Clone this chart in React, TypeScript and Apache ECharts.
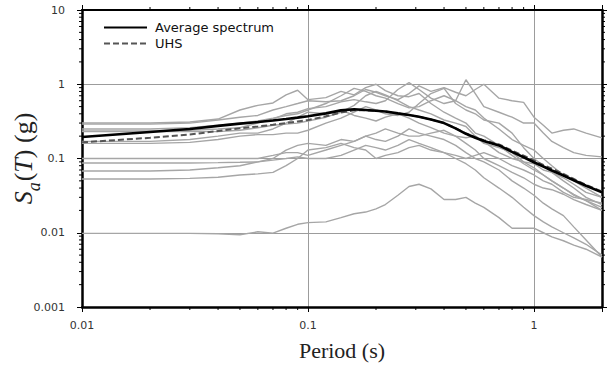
import React, { useEffect, useRef } from "react";
import * as echarts from "echarts";

// Periods (s) at which every spectrum is sampled
const periods = [
  0.01, 0.02, 0.03, 0.04, 0.05, 0.06, 0.07, 0.08, 0.09, 0.1,
  0.12, 0.14, 0.16, 0.18, 0.2, 0.22, 0.25, 0.28, 0.31, 0.35,
  0.4, 0.45, 0.5, 0.55, 0.6, 0.7, 0.8, 0.9, 1.0, 1.1,
  1.2, 1.35, 1.5, 1.7, 2.0,
];

const averageSpectrum = [
  0.195, 0.228, 0.25, 0.275, 0.295, 0.31, 0.325, 0.34, 0.355, 0.37,
  0.405, 0.445, 0.46, 0.45, 0.44, 0.43, 0.405, 0.385, 0.365, 0.335,
  0.3, 0.255, 0.215, 0.19, 0.172, 0.15, 0.123, 0.104, 0.089, 0.078,
  0.069, 0.059, 0.051, 0.043, 0.035,
];

const uhs = [
  0.165, 0.19, 0.21, 0.235, 0.255, 0.27, 0.285, 0.3, 0.315, 0.33,
  0.37, 0.415, 0.445, 0.445, 0.44, 0.43, 0.405, 0.385, 0.365, 0.335,
  0.3, 0.255, 0.217, 0.193, 0.176, 0.155, 0.128, 0.109, 0.094, 0.082,
  0.073, 0.062, 0.053, 0.044, 0.036,
];

const record01 = [
  0.3, 0.3, 0.31, 0.34, 0.45, 0.52, 0.56, 0.72, 0.83, 0.62,
  0.66, 0.8, 0.72, 0.9, 1.0, 0.82, 0.7, 0.68, 0.75, 0.55,
  0.42, 0.35, 0.3, 0.22, 0.2, 0.15, 0.11, 0.085, 0.07, 0.06,
  0.05, 0.04, 0.033, 0.027, 0.02,
];
const record02 = [
  0.29, 0.29, 0.3, 0.33, 0.36, 0.38, 0.45, 0.5, 0.55, 0.6,
  0.58, 0.6, 0.7, 0.85, 0.78, 0.7, 0.62, 0.75, 0.95, 0.8,
  0.9, 0.78, 0.7, 0.85, 1.0, 0.65, 0.6, 0.57, 0.36, 0.28,
  0.22, 0.24, 0.25, 0.22, 0.19,
];
const record03 = [
  0.235, 0.235, 0.24, 0.25, 0.26, 0.3, 0.34, 0.4, 0.42, 0.47,
  0.5, 0.58, 0.62, 0.58, 0.55, 0.6, 0.85, 1.05, 0.85, 0.65,
  0.55, 0.6, 1.15, 0.75, 0.5, 0.42, 0.36, 0.3, 0.3, 0.22,
  0.17, 0.14, 0.12, 0.11, 0.105,
];
const record04 = [
  0.23, 0.23, 0.23, 0.23, 0.24, 0.26, 0.28, 0.29, 0.3, 0.32,
  0.36, 0.42, 0.52, 0.7, 0.8, 0.72, 0.6, 0.5, 0.45, 0.4,
  0.33, 0.3, 0.27, 0.2, 0.16, 0.14, 0.12, 0.09, 0.075, 0.06,
  0.05, 0.04, 0.032, 0.027, 0.022,
];
const record05 = [
  0.16, 0.16, 0.165, 0.18, 0.2, 0.21, 0.21, 0.22, 0.22, 0.24,
  0.3, 0.35, 0.42, 0.5, 0.45, 0.4, 0.38, 0.42, 0.55, 0.75,
  0.88, 0.55, 0.45, 0.4, 0.33, 0.3, 0.22, 0.14, 0.1, 0.08,
  0.065, 0.05, 0.04, 0.03, 0.024,
];
const record06 = [
  0.17, 0.17, 0.18, 0.2, 0.22, 0.22, 0.25, 0.3, 0.36, 0.42,
  0.4, 0.45, 0.38, 0.35, 0.32, 0.36, 0.4, 0.35, 0.3, 0.26,
  0.22, 0.2, 0.19, 0.2, 0.17, 0.12, 0.1, 0.09, 0.085, 0.07,
  0.065, 0.055, 0.045, 0.035, 0.03,
];
const record07 = [
  0.1, 0.1, 0.1, 0.1, 0.1, 0.1, 0.11, 0.12, 0.12, 0.11,
  0.13, 0.15, 0.17, 0.2, 0.18, 0.17, 0.2, 0.25, 0.22, 0.2,
  0.18, 0.15, 0.12, 0.1, 0.09, 0.07, 0.05, 0.04, 0.032, 0.025,
  0.021, 0.017, 0.012, 0.008, 0.0047,
];
const record08 = [
  0.087, 0.087, 0.087, 0.088, 0.089, 0.09, 0.095, 0.1, 0.105, 0.1,
  0.1, 0.11, 0.13, 0.15, 0.14, 0.13, 0.15, 0.18, 0.16, 0.14,
  0.12, 0.1, 0.085, 0.07, 0.055, 0.04, 0.03, 0.022, 0.017, 0.014,
  0.012, 0.01, 0.0085, 0.007, 0.005,
];
const record09 = [
  0.068, 0.068, 0.07, 0.075, 0.08, 0.09, 0.1, 0.13, 0.15, 0.16,
  0.15, 0.18, 0.17, 0.2, 0.22, 0.25, 0.22, 0.2, 0.2, 0.22,
  0.24, 0.2, 0.16, 0.13, 0.1, 0.08, 0.065, 0.055, 0.045, 0.04,
  0.038, 0.033, 0.028, 0.024, 0.02,
];
const record10 = [
  0.053, 0.053, 0.054, 0.056, 0.06, 0.062, 0.065, 0.08, 0.1, 0.13,
  0.14, 0.16, 0.14, 0.13, 0.1, 0.11, 0.12, 0.14, 0.15, 0.13,
  0.12, 0.11, 0.1, 0.11, 0.12, 0.1, 0.08, 0.07, 0.06, 0.05,
  0.045, 0.035, 0.03, 0.028, 0.025,
];
const record11 = [
  0.25, 0.25, 0.26, 0.28, 0.3, 0.32, 0.35, 0.38, 0.4, 0.45,
  0.55, 0.7, 0.88, 0.8, 0.7, 0.65, 0.55, 0.48, 0.5, 0.6,
  0.7, 0.6, 0.5, 0.45, 0.35, 0.25, 0.18, 0.15, 0.13, 0.1,
  0.08, 0.06, 0.05, 0.04, 0.03,
];
const record12 = [
  0.0098, 0.0098, 0.0098, 0.0097, 0.0094, 0.0103, 0.0099, 0.0115, 0.013, 0.0137,
  0.014, 0.016, 0.018, 0.019, 0.021, 0.024, 0.032, 0.042, 0.045, 0.039,
  0.028, 0.028, 0.03, 0.025, 0.022, 0.016, 0.0115, 0.0115, 0.0115, 0.01,
  0.0088, 0.0078, 0.0068, 0.006, 0.0047,
];

const records = [
  record01, record02, record03, record04, record05, record06,
  record07, record08, record09, record10, record11, record12,
];

const xTickLabels = ["0.01", "0.1", "1"];
const yTickLabels = ["0.001", "0.01", "0.1", "1", "10"];
const minorXTicks = [
  0.02, 0.03, 0.04, 0.05, 0.06, 0.07, 0.08, 0.09,
  0.2, 0.3, 0.4, 0.5, 0.6, 0.7, 0.8, 0.9,
];
const minorYTicks = [
  0.002, 0.003, 0.004, 0.005, 0.006, 0.007, 0.008, 0.009,
  0.02, 0.03, 0.04, 0.05, 0.06, 0.07, 0.08, 0.09,
  0.2, 0.3, 0.4, 0.5, 0.6, 0.7, 0.8, 0.9,
  2, 3, 4, 5, 6, 7, 8, 9,
];

const SANS = "DejaVu Sans";
const SERIF = "Liberation Serif";

function decadeLabel(list: string[], v: number) {
  const e = Math.log10(v);
  const r = Math.round(e);
  if (Math.abs(e - r) > 1e-6) return "";
  const s = Number(Math.pow(10, r).toPrecision(6)).toString();
  return list.includes(s) ? s : "";
}

function buildOption(): any {
  const pair = (vals: number[]) => periods.map((t, i) => [t, vals[i]]);
  const grayStyle = { color: "#a6a6a6", width: 1.4 };

  const recordSeries = records.map((r, i) => ({
    name: "record " + (i + 1),
    type: "line",
    data: pair(r),
    symbol: "none",
    silent: true,
    lineStyle: grayStyle,
    itemStyle: { color: "#a6a6a6" },
    z: 2,
  }));

  const tickData = [
    ...minorXTicks.map((v) => [v, 1, 0]),
    ...minorYTicks.map((v) => [0.1, v, 1]),
  ];

  const axisCommonX = {
    type: "log",
    logBase: 10,
    min: 0.01,
    max: 2,
  };
  const axisCommonY = {
    type: "log",
    logBase: 10,
    min: 0.001,
    max: 10,
  };

  return {
    animation: false,
    backgroundColor: "#ffffff",
    grid: {
      left: 82,
      right: 7,
      top: 10,
      bottom: 60,
      containLabel: false,
      outerBoundsMode: "none",
    },
    legend: {
      data: ["Average spectrum", "UHS"],
      orient: "vertical",
      left: 103,
      top: 21,
      padding: 0,
      itemWidth: 43,
      itemHeight: 14,
      itemGap: 3,
      itemStyle: { color: "transparent", borderWidth: 0, opacity: 0 },
      textStyle: { fontFamily: SANS, fontSize: 13, color: "#111", padding: [0, 0, 0, 3] },
    },
    xAxis: [
      {
        ...axisCommonX,
        position: "bottom",
        name: "Period (s)",
        nameLocation: "middle",
        nameGap: 32,
        nameMoveOverlap: false,
        nameTextStyle: { fontFamily: SERIF, fontSize: 22, color: "#222" },
        axisLine: { show: true, lineStyle: { color: "#000", width: 2.5 } },
        axisTick: { show: true, length: 5, lineStyle: { color: "#000", width: 1 } },
        axisLabel: {
          margin: 13,
          fontFamily: SANS,
          fontSize: 11,
          color: "#333",
          formatter: (v: number) => decadeLabel(xTickLabels, v),
        },
        splitLine: { show: true, lineStyle: { color: "#9c9c9c", width: 1 } },
      },
      {
        ...axisCommonX,
        position: "top",
        axisLine: { show: true, lineStyle: { color: "#000", width: 2 } },
        axisTick: { show: true, length: 5, lineStyle: { color: "#000", width: 1 } },
        axisLabel: { show: false },
        splitLine: { show: false },
      },
    ],
    yAxis: [
      {
        ...axisCommonY,
        position: "left",
        name: "{i|S}{sub|a}{n|(}{i|T}{n|) (g)}",
        nameLocation: "middle",
        nameGap: 46,
        nameMoveOverlap: false,
        nameRotate: 90,
        nameTextStyle: {
          fontFamily: SERIF,
          fontSize: 26,
          color: "#222",
          rich: {
            i: { fontFamily: SERIF, fontSize: 26, fontStyle: "italic", color: "#222" },
            n: { fontFamily: SERIF, fontSize: 26, color: "#222" },
            sub: {
              fontFamily: SERIF,
              fontSize: 18,
              fontStyle: "italic",
              color: "#222",
              verticalAlign: "bottom",
              padding: [0, 1, -7, 0],
            },
          },
        },
        axisLine: { show: true, lineStyle: { color: "#000", width: 2.5 } },
        axisTick: { show: true, length: 5, lineStyle: { color: "#000", width: 1 } },
        axisLabel: {
          margin: 17,
          fontFamily: SANS,
          fontSize: 11,
          color: "#333",
          formatter: (v: number) => decadeLabel(yTickLabels, v),
        },
        splitLine: { show: true, lineStyle: { color: "#9c9c9c", width: 1 } },
      },
      {
        ...axisCommonY,
        position: "right",
        axisLine: { show: true, lineStyle: { color: "#000", width: 2.5 } },
        axisTick: { show: true, length: 5, lineStyle: { color: "#000", width: 1 } },
        axisLabel: { show: false },
        splitLine: { show: false },
      },
    ],
    series: [
      ...recordSeries,
      {
        name: "UHS",
        type: "line",
        data: pair(uhs),
        symbol: "none",
        silent: true,
        lineStyle: { color: "#555555", width: 2, type: [6, 3] },
        itemStyle: { color: "#555555" },
        z: 3,
      },
      {
        name: "Average spectrum",
        type: "line",
        data: pair(averageSpectrum),
        symbol: "none",
        silent: true,
        lineStyle: { color: "#000000", width: 2.6 },
        itemStyle: { color: "#000000" },
        z: 4,
      },
      {
        name: "minor ticks",
        type: "custom",
        silent: true,
        clip: false,
        z: 6,
        data: tickData,
        encode: { x: 0, y: 1 },
        renderItem: (params: any, api: any) => {
          const cs = params.coordSys;
          const kind = api.value(2);
          const L = 3;
          const style = { stroke: "#000", lineWidth: 1 };
          if (kind === 0) {
            const px = api.coord([api.value(0), 1])[0];
            return {
              type: "group",
              children: [
                { type: "line", shape: { x1: px, y1: cs.y + cs.height, x2: px, y2: cs.y + cs.height + L }, style },
                { type: "line", shape: { x1: px, y1: cs.y, x2: px, y2: cs.y - L }, style },
              ],
            };
          }
          const py = api.coord([0.1, api.value(1)])[1];
          return {
            type: "group",
            children: [
              { type: "line", shape: { x1: cs.x, y1: py, x2: cs.x - L, y2: py }, style },
              { type: "line", shape: { x1: cs.x + cs.width, y1: py, x2: cs.x + cs.width + L, y2: py }, style },
            ],
          };
        },
      },
    ],
  };
}

export default function App() {
  const ref = useRef<HTMLDivElement>(null);
  useEffect(() => {
    if (!ref.current) return;
    const chart = echarts.init(ref.current, null, { renderer: "svg" });
    chart.setOption(buildOption());
    return () => chart.dispose();
  }, []);
  return (
    <div
      ref={ref}
      style={{ position: "fixed", left: 0, top: 0, width: 609, height: 367, background: "#fff" }}
    />
  );
}
